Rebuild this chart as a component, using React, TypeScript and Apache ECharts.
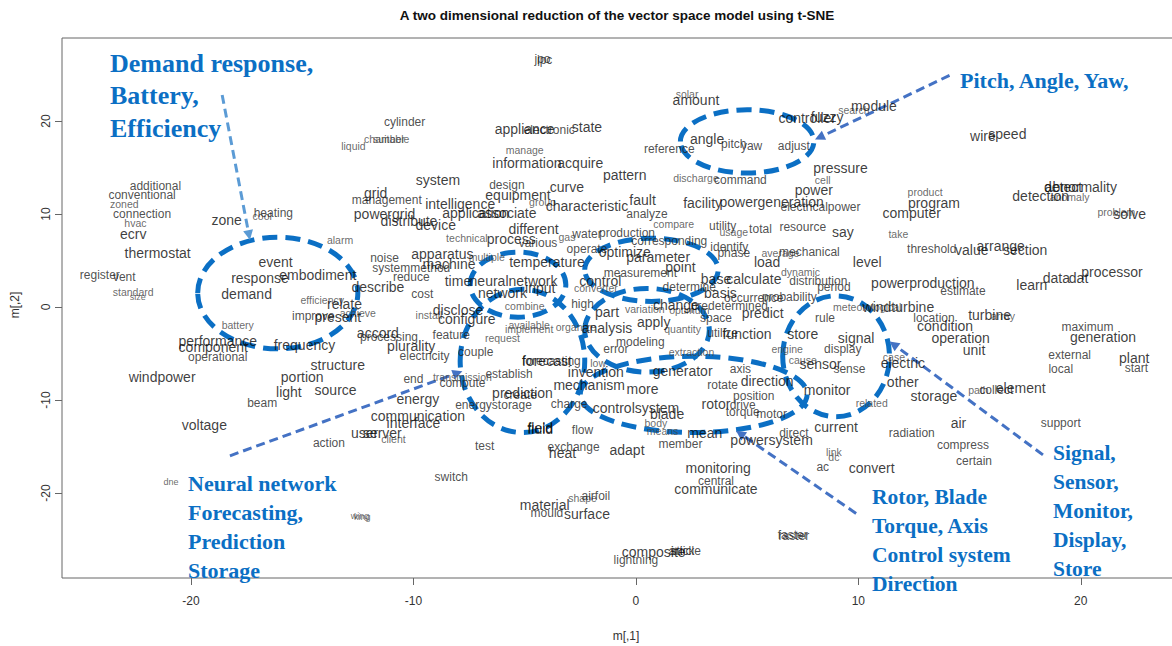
import React, { useEffect, useRef } from "react";
import * as echarts from "echarts";

// Tick positions on both axes
const xTicks = [-20, -10, 0, 10, 20];
const yTicks = [-20, -10, 0, 10, 20];

// Word embeddings projected by t-SNE: [term, m[,1], m[,2]]
const largeWords: [string, number, number][] = [
  ["ecrv", -22.6, 7.8], ["thermostat", -21.5, 5.8], ["zone", -18.4, 9.4], ["event", -16.2, 4.8],
  ["response", -16.9, 3.1], ["demand", -17.5, 1.4], ["performance", -18.8, -3.7], ["component", -19.0, -4.3],
  ["windpower", -21.3, -7.5], ["frequency", -14.9, -4.1], ["embodiment", -14.3, 3.4], ["relate", -13.1, 0.3],
  ["present", -13.4, -1.1], ["structure", -13.4, -6.2], ["portion", -15.0, -7.5], ["light", -15.6, -9.1],
  ["source", -13.5, -8.9], ["voltage", -19.4, -12.7],
  ["appliance", -5.0, 19.1], ["state", -2.2, 19.4], ["information", -4.9, 15.5], ["acquire", -2.5, 15.5],
  ["pattern", -0.5, 14.2], ["system", -8.9, 13.7], ["curve", -3.1, 12.9], ["equipment", -5.3, 12.0],
  ["grid", -11.7, 12.3], ["intelligence", -7.9, 11.1], ["application", -7.2, 10.1], ["associate", -5.8, 10.1],
  ["characteristic", -2.2, 10.9], ["powergrid", -11.3, 10.0], ["distribute", -10.2, 9.2], ["device", -9.0, 8.8],
  ["different", -4.6, 8.4], ["process", -5.6, 7.3], ["apparatus", -8.7, 5.7], ["machine", -8.4, 4.6],
  ["temperature", -4.0, 4.8], ["describe", -11.6, 2.2], ["time", -8.0, 2.8], ["neuralnetwork", -5.5, 2.8],
  ["input", -4.3, 2.0], ["network", -6.0, 1.5], ["control", -1.6, 2.8], ["disclose", -8.0, -0.3],
  ["configure", -7.6, -1.3], ["part", -1.3, -0.5], ["accord", -11.6, -2.8], ["plurality", -10.1, -4.2],
  ["analysis", -1.3, -2.3], ["forecast", -4.0, -5.8], ["invention", -1.8, -7.0], ["mechanism", -2.1, -8.4],
  ["prediction", -5.1, -9.2], ["energy", -9.8, -9.9], ["communication", -9.8, -11.7], ["interface", -10.0, -12.5],
  ["user", -12.2, -13.5], ["server", -11.4, -13.5], ["fluid", -4.3, -13.1], ["field", -4.3, -13.0],
  ["controlsystem", 0.0, -10.9], ["heat", -3.3, -15.7], ["adapt", -0.4, -15.4], ["material", -4.1, -21.3],
  ["surface", -2.2, -22.3], ["composite", 0.8, -26.3],
  ["amount", 2.7, 22.3], ["controller", 7.7, 20.3], ["fuzzy", 8.6, 20.4], ["module", 10.7, 21.6],
  ["angle", 3.2, 18.1], ["pressure", 9.2, 14.9], ["power", 8.0, 12.6], ["facility", 3.0, 11.2],
  ["powergeneration", 6.1, 11.3], ["fault", 0.3, 11.5], ["say", 9.3, 8.1], ["optimize", -0.5, 5.9],
  ["parameter", 1.0, 5.4], ["point", 2.0, 4.3], ["load", 5.9, 4.8], ["level", 10.4, 4.8],
  ["base", 3.6, 3.0], ["calculate", 5.3, 3.0], ["basis", 3.8, 1.5], ["change", 1.8, 0.2],
  ["predict", 5.7, -0.6], ["windturbine", 11.8, 0.0], ["apply", 0.8, -1.6], ["function", 5.0, -2.9],
  ["store", 7.5, -2.9], ["signal", 9.9, -3.3], ["sensor", 8.3, -6.1], ["generator", 2.1, -6.9],
  ["direction", 5.9, -8.0], ["more", 0.3, -8.8], ["monitor", 8.6, -8.9], ["other", 12.0, -8.1],
  ["electric", 12.0, -6.0], ["blade", 1.4, -11.5], ["mean", 3.1, -13.5], ["rotor", 3.6, -10.4],
  ["current", 9.0, -12.9], ["powersystem", 6.1, -14.3], ["convert", 10.6, -17.3], ["monitoring", 3.7, -17.3],
  ["communicate", 3.6, -19.6],
  ["wire", 15.6, 18.4], ["speed", 16.7, 18.6], ["program", 13.4, 11.2], ["computer", 12.4, 10.1],
  ["detection", 18.2, 11.9], ["detect", 19.2, 12.9], ["abnormality", 20.0, 12.9], ["solve", 22.2, 10.0],
  ["value", 15.1, 6.1], ["arrange", 16.4, 6.6], ["section", 17.5, 6.1], ["data", 18.9, 3.1],
  ["dat", 19.9, 3.1], ["processor", 21.4, 3.8], ["learn", 17.8, 2.4], ["powerproduction", 12.9, 2.6],
  ["turbine", 15.9, -0.9], ["condition", 13.9, -2.0], ["operation", 14.6, -3.3], ["unit", 15.2, -4.6],
  ["generation", 21.0, -3.2], ["plant", 22.4, -5.5], ["storage", 13.4, -9.6], ["element", 17.3, -8.7],
  ["air", 14.5, -12.5],
];

const mediumWords: [string, number, number][] = [
  ["additional", -21.6, 13.0], ["conventional", -22.2, 12.0], ["connection", -22.2, 10.0], ["register", -24.1, 3.4],
  ["vent", -23.0, 3.2], ["heating", -16.3, 10.1], ["operational", -18.8, -5.4], ["improve", -14.5, -1.0],
  ["beam", -16.8, -10.3], ["action", -13.8, -14.6], ["jpo", -4.2, 26.7], ["ipc", -4.1, 26.6],
  ["cylinder", -10.4, 19.9], ["electronic", -3.9, 19.0], ["design", -5.8, 13.1], ["management", -11.2, 11.5],
  ["various", -4.4, 6.9], ["water", -2.2, 7.8], ["production", -0.4, 8.0], ["operate", -2.2, 6.2],
  ["noise", -11.3, 5.3], ["systemmethod", -10.1, 4.2], ["reduce", -10.1, 3.2], ["cost", -9.6, 1.4],
  ["high", -2.4, 0.3], ["feature", -8.3, -3.0], ["processing", -11.1, -3.2], ["electricity", -9.5, -5.3],
  ["couple", -7.2, -4.8], ["error", -0.9, -4.5], ["modeling", 0.2, -3.8], ["forecasting", -3.8, -5.8],
  ["end", -10.0, -7.7], ["establish", -5.7, -7.2], ["compute", -7.8, -8.2], ["create", -5.2, -9.5],
  ["energystorage", -6.4, -10.5], ["test", -6.8, -14.9], ["flow", -2.4, -13.2], ["charge", -3.0, -10.4],
  ["exchange", -2.8, -15.1], ["switch", -8.3, -18.3], ["mould", -4.0, -22.2], ["airfoil", -1.8, -20.3],
  ["lightning", 0.0, -27.2], ["article", 2.2, -26.2], ["stick", 2.1, -26.2], ["raster", 7.1, -24.6],
  ["faster", 7.05, -24.5],
  ["pitch", 4.4, 17.5], ["yaw", 5.2, 17.3], ["adjust", 7.1, 17.3], ["reference", 1.5, 17.0],
  ["command", 4.7, 13.7], ["electricalpower", 8.3, 10.8], ["analyze", 0.5, 10.0], ["utility", 3.9, 8.7],
  ["total", 5.6, 8.4], ["resource", 7.5, 8.6], ["corresponding", 1.5, 7.1], ["identify", 4.2, 6.5],
  ["phase", 4.4, 5.8], ["mechanical", 7.8, 5.9], ["measurement", 0.2, 3.7], ["distribution", 8.2, 2.8],
  ["period", 8.9, 2.2], ["determine", 2.4, 2.2], ["occurrence", 5.3, 1.0], ["probability", 6.9, 1.1],
  ["predetermined", 4.2, 0.1], ["space", 3.6, -1.2], ["rule", 8.5, -1.2], ["utilize", 3.9, -2.8],
  ["display", 9.3, -4.5], ["sense", 9.6, -6.7], ["axis", 4.7, -6.7], ["rotate", 3.9, -8.4],
  ["position", 5.3, -9.6], ["member", 2.0, -14.7], ["drive", 4.8, -10.5], ["torque", 4.8, -11.3],
  ["motor", 6.1, -11.5], ["direct", 7.1, -13.5], ["ac", 8.4, -17.2], ["central", 3.6, -18.7],
  ["threshold", 13.3, 6.2], ["estimate", 14.7, 1.7], ["location", 13.4, -1.2], ["maximum", 20.3, -2.2],
  ["external", 19.5, -5.2], ["local", 19.1, -6.7], ["start", 22.5, -6.6], ["collect", 16.2, -8.9],
  ["radiation", 12.4, -13.5], ["support", 19.1, -12.5], ["compress", 14.7, -14.8], ["certain", 15.2, -16.6],
];

const smallWords: [string, number, number][] = [
  ["zoned", -23.0, 11.1], ["hvac", -22.5, 9.0], ["standard", -22.6, 1.6], ["cool", -16.8, 9.8],
  ["battery", -17.9, -1.9], ["alarm", -13.3, 7.2], ["efficiency", -14.1, 0.8], ["achieve", -12.5, -0.6],
  ["liquid", -12.7, 17.3], ["chamber", -11.3, 18.1], ["suitable", -11.0, 18.1], ["manage", -5.0, 16.9],
  ["group", -4.2, 11.3], ["technical", -7.6, 7.4], ["gas", -3.1, 7.5], ["multiple", -6.7, 5.4],
  ["converter", -1.8, 2.0], ["combine", -5.0, 0.1], ["install", -9.3, -0.9], ["available", -4.8, -1.9],
  ["implement", -4.8, -2.4], ["request", -6.0, -3.3], ["organize", -2.7, -2.2], ["low", -1.7, -6.0],
  ["transmission", -7.8, -7.5], ["client", -10.9, -14.2], ["shape", -2.4, -20.5],
  ["solar", 2.3, 22.9], ["search", 9.8, 21.2], ["cell", 8.4, 13.7], ["discharge", 2.7, 13.9],
  ["compare", 1.7, 8.9], ["usage", 4.4, 8.1], ["take", 11.8, 7.8], ["average", 6.5, 5.8],
  ["dynamic", 7.4, 3.8], ["variation", 0.4, -0.2], ["optimum", 2.4, -0.3], ["meteorological", 10.4, 0.0],
  ["quantity", 2.1, -2.4], ["engine", 6.8, -4.5], ["cause", 7.5, -5.7], ["case", 11.6, -5.4],
  ["extraction", 2.5, -4.8], ["body", 0.9, -12.5], ["means", 1.2, -13.3], ["related", 10.6, -10.3],
  ["link", 8.9, -15.6], ["dc", 8.9, -16.1], ["product", 13.0, 12.4], ["anomaly", 19.5, 11.8],
  ["problem", 21.6, 10.2], ["array", 16.5, -1.0], ["path", 15.4, -8.9],
];

const tinyWords: [string, number, number][] = [
  ["size", -22.4, 1.1], ["dne", -20.9, -18.8], ["wing", -12.4, -22.5], ["king", -12.3, -22.6],
];

// Highlighted clusters: centre and radii in axis units
const clusters: [number, number, number, number][] = [
  [5.0, 17.8, 3.0, 3.4],
  [-16.1, 1.5, 3.6, 6.0],
  [-5.3, 2.4, 2.15, 3.5],
  [-5.1, -5.8, 2.8, 7.7],
  [0.7, 4.0, 3.0, 3.4],
  [0.5, -2.5, 2.8, 4.5],
  [2.6, -9.4, 5.1, 4.1],
  [9.0, -5.3, 2.4, 6.5],
];

// Callout arrows: from (x1, y1) to (x2, y2) in axis units
const arrows: { from: [number, number]; to: [number, number]; color: string }[] = [
  { from: [-18.6, 22.8], to: [-17.35, 7.2], color: "#5B9BD5" },
  { from: [14.1, 24.9], to: [8.05, 18.0], color: "#4472C4" },
  { from: [-18.25, -16.0], to: [-7.8, -6.9], color: "#4472C4" },
  { from: [9.9, -22.2], to: [4.5, -13.3], color: "#4472C4" },
  { from: [18.3, -15.9], to: [11.4, -3.7], color: "#4472C4" },
];

const callouts: { text: string; x: number; y: number; size: number; lh: number }[] = [
  { text: "Demand response,\nBattery,\nEfficiency", x: 110, y: 47, size: 26, lh: 32.5 },
  { text: "Pitch, Angle, Yaw,", x: 960, y: 66, size: 22, lh: 29 },
  { text: "Neural network\nForecasting,\nPrediction\nStorage", x: 188, y: 468.5, size: 22, lh: 29 },
  { text: "Rotor, Blade\nTorque, Axis\nControl system\nDirection", x: 872, y: 482.5, size: 21.5, lh: 29 },
  { text: "Signal,\nSensor,\nMonitor,\nDisplay,\nStore", x: 1053, y: 438.5, size: 21.5, lh: 29 },
];

const SANS = "'Liberation Sans', Arial, Helvetica, sans-serif";
const SERIF = "'Liberation Serif', 'Times New Roman', serif";
const BLUE = "#0B6FC4";

export default function App() {
  const ref = useRef<HTMLDivElement>(null);

  useEffect(() => {
    const el = ref.current;
    if (!el) return;
    const chart = echarts.init(el, null, { renderer: "svg" });

    const wordSeries = (data: [string, number, number][], size: number, color: string) => ({
      type: "scatter",
      silent: true,
      symbolSize: 1,
      itemStyle: { color: "rgba(0,0,0,0)" },
      data: data.map(([w, x, y]) => ({ name: w, value: [x, y] })),
      label: {
        show: true,
        position: "inside",
        formatter: "{b}",
        fontSize: size,
        color,
        fontFamily: SANS,
      },
      labelLayout: { hideOverlap: false },
    });

    chart.setOption({
      animation: false,
      grid: {
        left: 62,
        top: 38,
        width: 1130,
        height: 540,
        outerBoundsMode: "none",
        containLabel: false,
        show: true,
        borderColor: "#666",
        borderWidth: 1,
        backgroundColor: "transparent",
      },
      xAxis: {
        type: "value",
        min: -25.8,
        max: 25.0,
        axisLine: { show: false, onZero: false },
        splitLine: { show: false },
        axisTick: { show: true, inside: false, length: 7, customValues: xTicks, lineStyle: { color: "#666" } },
        axisLabel: { customValues: xTicks, margin: 17, fontSize: 12, color: "#333", fontFamily: SANS },
      },
      yAxis: {
        type: "value",
        min: -29.14,
        max: 28.92,
        axisLine: { show: false, onZero: false },
        splitLine: { show: false },
        axisTick: { show: true, inside: false, length: 7, customValues: yTicks, lineStyle: { color: "#666" } },
        axisLabel: { customValues: yTicks, margin: 10, rotate: 90, fontSize: 12, color: "#333", fontFamily: SANS },
      },
      series: [
        wordSeries(tinyWords, 9, "#444"),
        wordSeries(smallWords, 10.5, "#444"),
        wordSeries(mediumWords, 12, "#222"),
        wordSeries(largeWords, 14, "#0a0a0a"),
      ],
    });

    const px = (x: number, y: number) => chart.convertToPixel({ gridIndex: 0 }, [x, y]) as number[];

    const graphics: any[] = [];

    // Chart title and axis titles
    graphics.push({
      type: "text",
      x: 617,
      y: 15,
      style: {
        text: "A two dimensional reduction of the vector space model using t-SNE",
        font: `bold 13.5px ${SANS}`,
        fill: "#111",
        align: "center",
        verticalAlign: "middle",
      },
    });
    graphics.push({
      type: "text",
      x: 626,
      y: 636,
      style: { text: "m[,1]", font: `12px ${SANS}`, fill: "#333", align: "center", verticalAlign: "middle" },
    });
    graphics.push({
      type: "text",
      x: 15,
      y: 305,
      rotation: Math.PI / 2,
      style: { text: "m[,2]", font: `12px ${SANS}`, fill: "#333", align: "center", verticalAlign: "middle" },
    });

    // Dashed cluster outlines
    clusters.forEach(([cx, cy, rx, ry]) => {
      const c = px(cx, cy);
      const e = px(cx + rx, cy + ry);
      graphics.push({
        type: "ellipse",
        silent: true,
        shape: { cx: c[0], cy: c[1], rx: Math.abs(e[0] - c[0]), ry: Math.abs(e[1] - c[1]) },
        style: { fill: "none", stroke: BLUE, lineWidth: 5, lineDash: [15, 8] },
      });
    });

    // Dashed arrows with heads
    arrows.forEach(({ from, to, color }) => {
      const a = px(from[0], from[1]);
      const b = px(to[0], to[1]);
      const dx = b[0] - a[0];
      const dy = b[1] - a[1];
      const len = Math.hypot(dx, dy);
      const ux = dx / len;
      const uy = dy / len;
      const head = 10;
      const half = 5;
      const bx = b[0] - ux * head;
      const by = b[1] - uy * head;
      graphics.push({
        type: "line",
        silent: true,
        shape: { x1: a[0], y1: a[1], x2: bx, y2: by },
        style: { stroke: color, lineWidth: 3, lineDash: [9, 5] },
      });
      graphics.push({
        type: "polygon",
        silent: true,
        shape: {
          points: [
            [b[0], b[1]],
            [bx - uy * half, by + ux * half],
            [bx + uy * half, by - ux * half],
          ],
        },
        style: { fill: color },
      });
    });

    // Callout labels
    callouts.forEach(({ text, x, y, size, lh }) => {
      graphics.push({
        type: "text",
        x,
        y,
        silent: true,
        style: {
          text,
          font: `bold ${size}px ${SERIF}`,
          fill: BLUE,
          lineHeight: lh,
          align: "left",
          verticalAlign: "top",
        },
      });
    });

    chart.setOption({ graphic: graphics });

    return () => chart.dispose();
  }, []);

  return <div ref={ref} style={{ position: "absolute", left: 0, top: 0, width: 1172, height: 646 }} />;
}
